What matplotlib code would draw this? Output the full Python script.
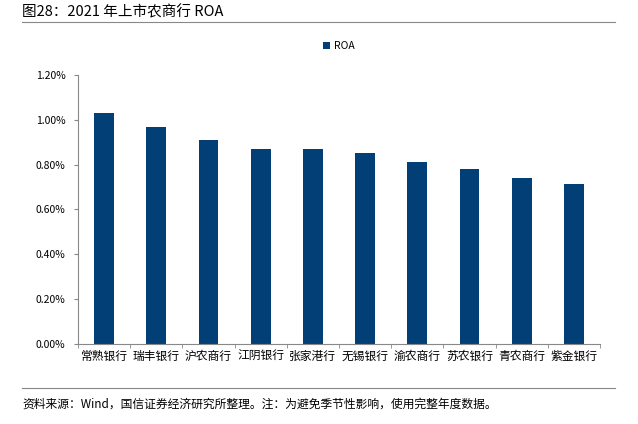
import matplotlib.pyplot as plt
from matplotlib.ticker import FuncFormatter, FixedLocator
import numpy as np

plt.rcParams['font.family'] = ['Noto Sans CJK SC', 'DejaVu Sans']

banks = ['常熟银行', '瑞丰银行', '沪农商行', '江阴银行', '张家港行',
         '无锡银行', '渝农商行', '苏农银行', '青农商行', '紫金银行']
roa = [1.03, 0.97, 0.91, 0.87, 0.87, 0.85, 0.81, 0.78, 0.74, 0.715]

color = '#033F77'

fig = plt.figure(figsize=(6.38, 4.24), dpi=100)
ax = fig.add_axes([0.1223, 0.1887, 0.818, 0.6344])

x = np.arange(len(banks))
ax.bar(x, roa, width=0.38, color=color, label='ROA')

ax.set_xlim(-0.5, len(banks) - 0.5)
ax.set_ylim(0, 1.2)
ax.set_yticks(np.arange(0, 1.21, 0.2))
ax.yaxis.set_major_formatter(FuncFormatter(lambda v, p: f'{v:.2f}%'))
ax.set_xticks(x)
ax.set_xticklabels(banks, fontsize=8.5)
ax.tick_params(axis='x', length=0, pad=4)
ax.xaxis.set_minor_locator(FixedLocator(np.arange(-0.5, len(banks), 1)))
ax.tick_params(axis='x', which='minor', length=3, color='#888888')
ax.tick_params(axis='y', labelsize=7.5, length=3, color='#888888', pad=6)

for s in ['top', 'right']:
    ax.spines[s].set_visible(False)
for s in ['left', 'bottom']:
    ax.spines[s].set_color('#888888')
    ax.spines[s].set_linewidth(0.8)

ax.legend(loc='center', bbox_to_anchor=(0.5, 1.108), frameon=False,
          fontsize=7.5, handlelength=0.6, handleheight=0.6, handletextpad=0.4)

fig.text(22 / 638, 1 - 12 / 424, '图28：2021 年上市农商行 ROA', fontsize=10.5,
         va='center', ha='left')
fig.add_artist(plt.Line2D([22 / 638, 615 / 638], [1 - 22 / 424, 1 - 22 / 424],
                          color='#888888', linewidth=0.8))
fig.add_artist(plt.Line2D([22 / 638, 615 / 638], [1 - 388 / 424, 1 - 388 / 424],
                          color='#888888', linewidth=0.8))
fig.text(22 / 638, 1 - 404 / 424,
         '资料来源：Wind，国信证券经济研究所整理。注：为避免季节性影响，使用完整年度数据。',
         fontsize=8.5, va='center', ha='left')

fig.savefig('out.png', dpi=100)
